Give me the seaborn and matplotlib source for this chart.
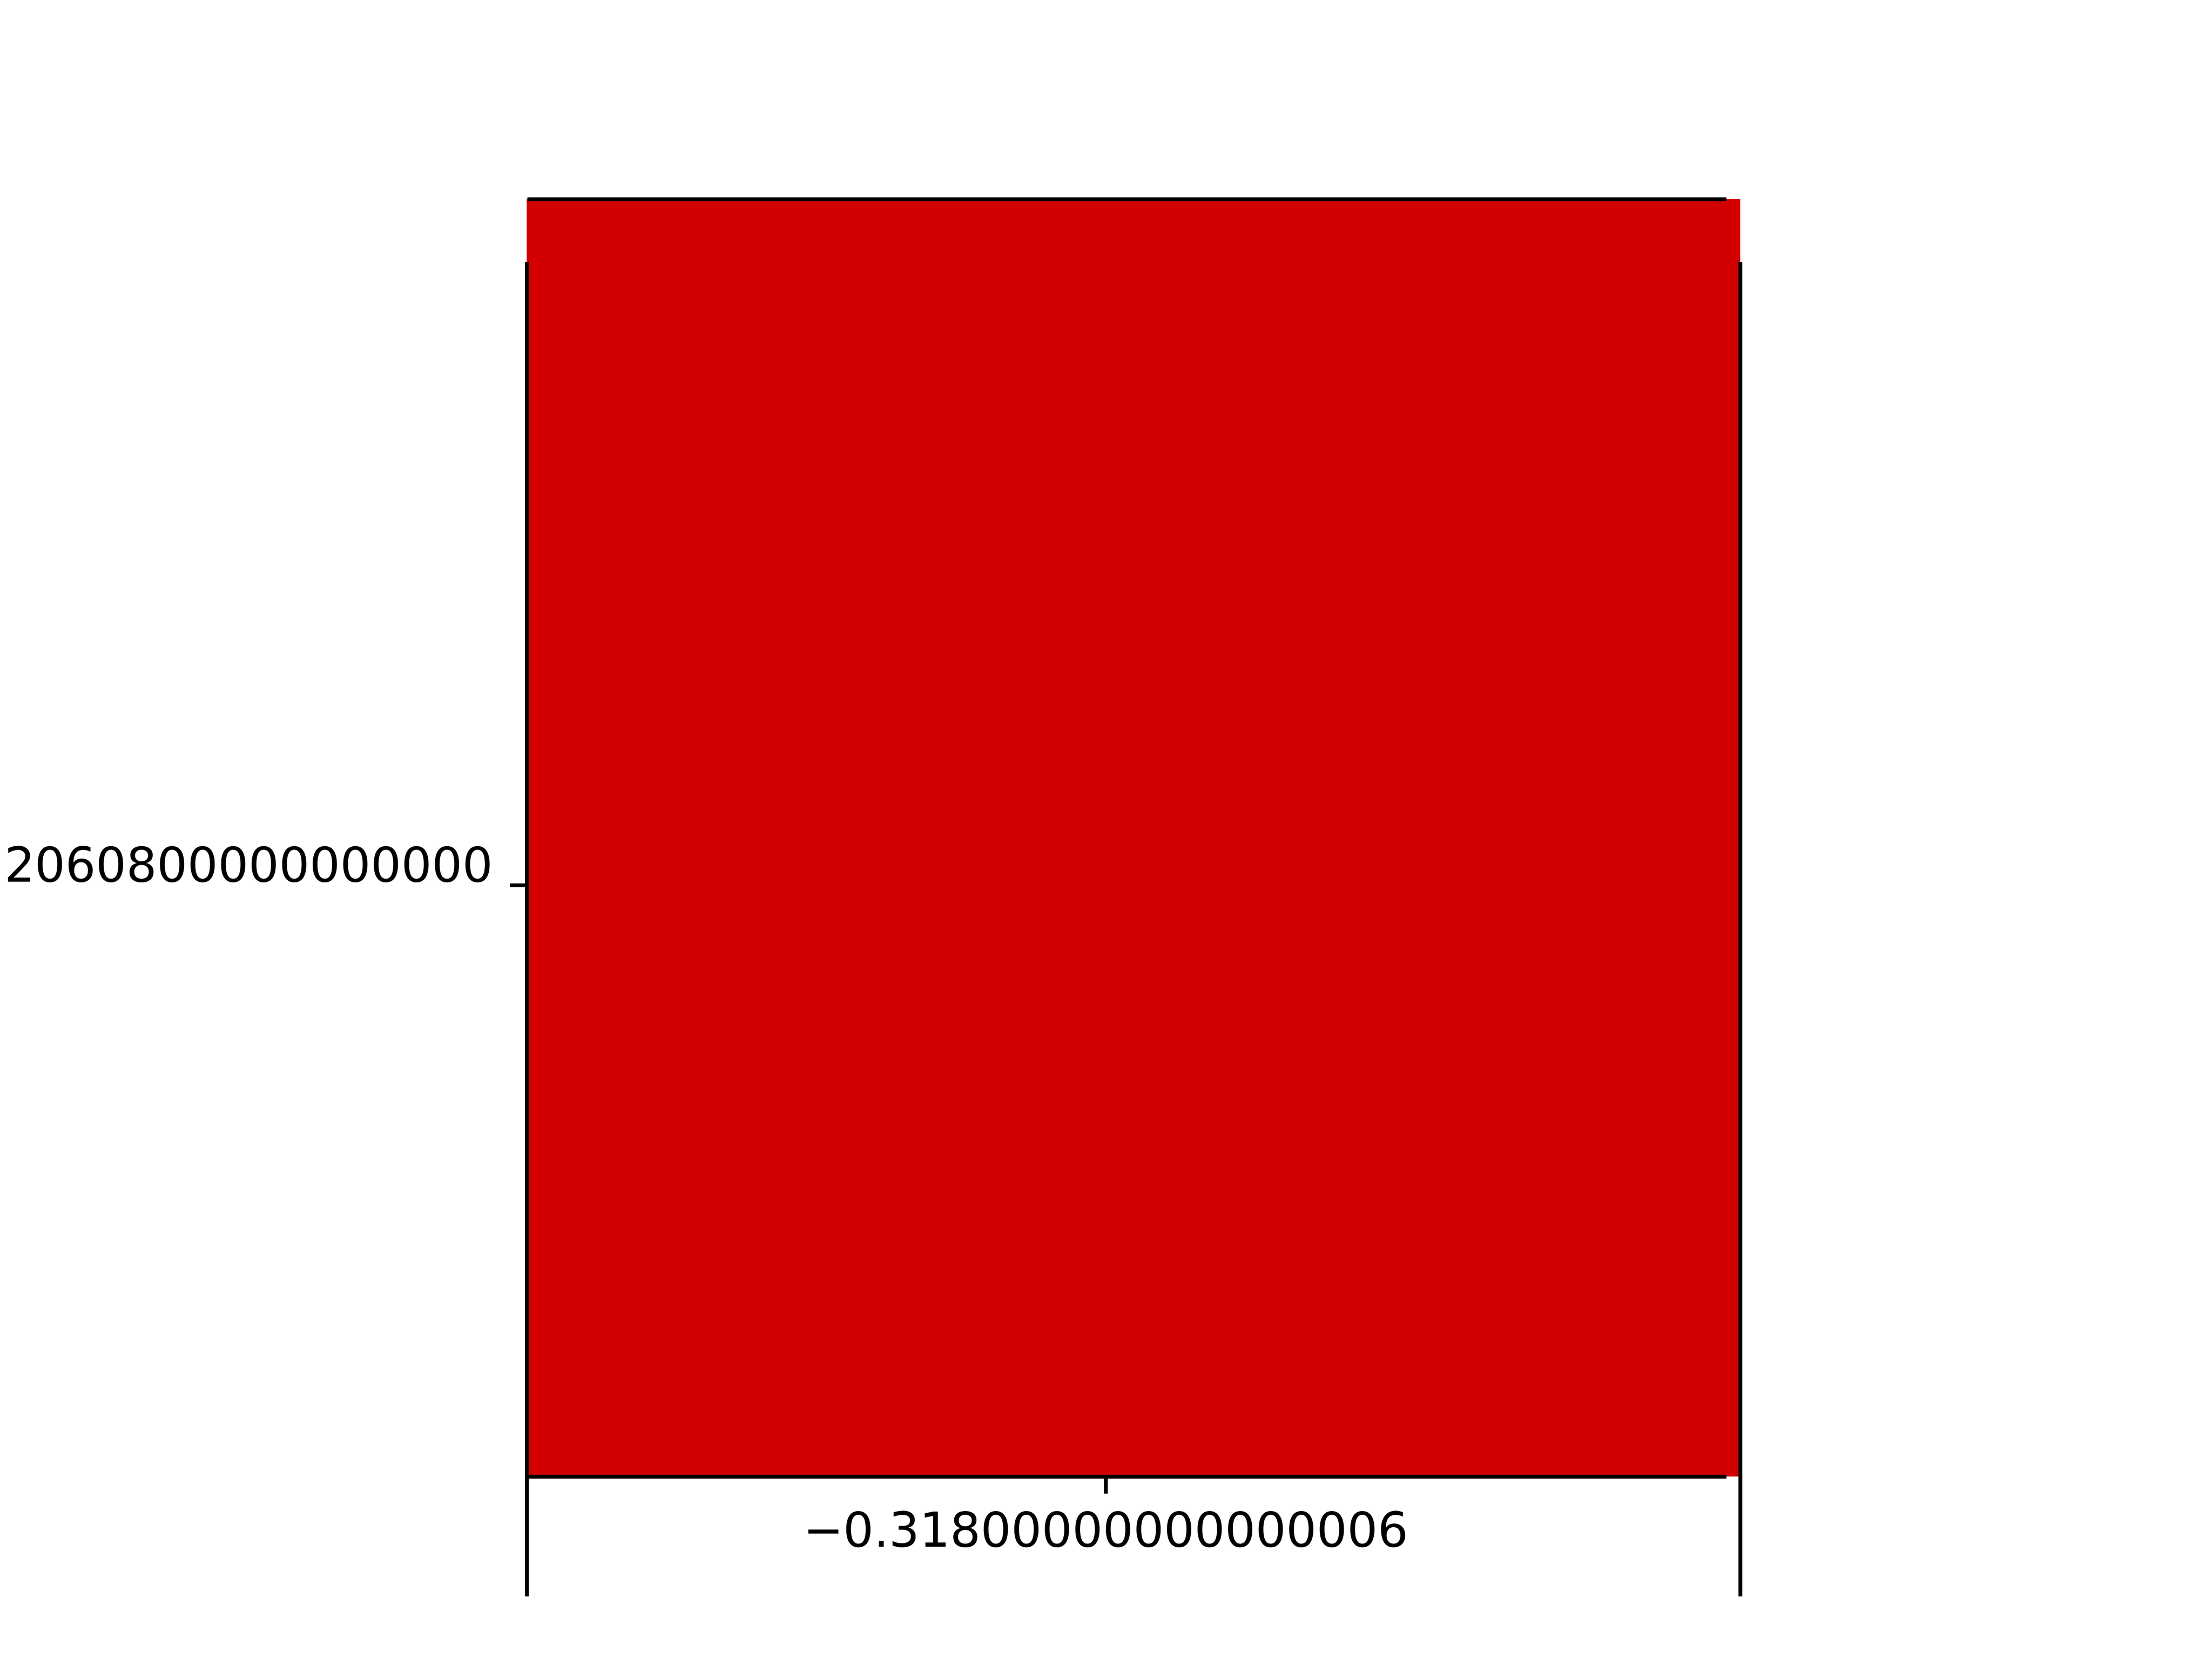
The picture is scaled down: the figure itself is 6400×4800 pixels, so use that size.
import pandas as pd
import seaborn as sns
import matplotlib.pyplot as plt
from matplotlib.colors import ListedColormap
from matplotlib.transforms import ScaledTranslation

# single cell heatmap, labels as printed in the reference
x_labels = ['\u22120.31800000000000006']
y_labels = ['2060800000000000']
cell_values = [[1.0]]
cell_color = '#d20000'

df = pd.DataFrame(cell_values, index=y_labels, columns=x_labels)

fig, ax = plt.subplots(figsize=(6.4, 4.8), dpi=1000)
sns.heatmap(df, ax=ax, cmap=ListedColormap([cell_color]), cbar=False)

# axes box as measured on the reference (pixels of a 6400x4800 canvas)
ax.set_position([1524 / 6400, 0.11, (5035 - 1524) / 6400, 0.77])

ax.set_xticks([0.477], labels=x_labels, rotation=0)
ax.set_yticks([0.537], labels=y_labels, rotation=0, va='center_baseline')

for side in ['left', 'right', 'top', 'bottom']:
    sp = ax.spines[side]
    sp.set_visible(True)
    sp.set_color('black')
    sp.set_linewidth(0.8)
ax.spines['left'].set_bounds(0.0506, 1.0923)
ax.spines['right'].set_bounds(0.0506, 1.0923)
ax.spines['top'].set_bounds(0.002, 0.987)
ax.spines['bottom'].set_bounds(0.002, 0.987)

ax.set_xlabel('')
ax.set_ylabel('')

# y tick label sits a little above its tick in the reference
for lab in ax.get_yticklabels():
    lab.set_transform(lab.get_transform() + ScaledTranslation(0, 0.063, fig.dpi_scale_trans))

fig.savefig('out.png', dpi=1000)
